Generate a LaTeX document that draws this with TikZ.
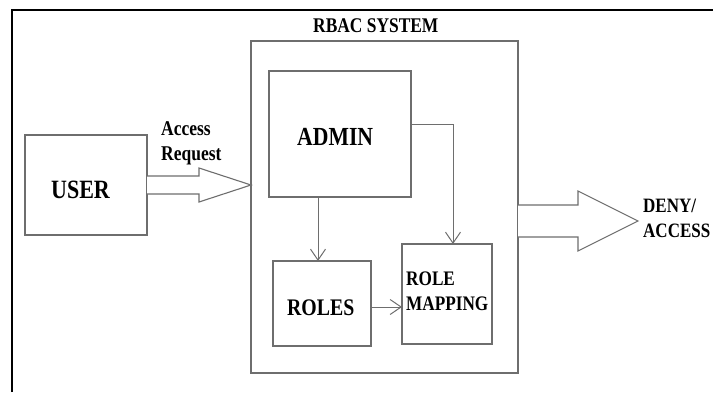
\documentclass[tikz,border=0pt]{standalone}
\usepackage{fontspec}
\setmainfont{Liberation Serif}
\usetikzlibrary{arrows.meta,calc}
\definecolor{boxgray}{HTML}{6E6E6E}
% bold serif text, slightly stretched vertically
\newcommand\tallt[1]{\scalebox{1}[1.2]{#1}}
\tikzset{
  frame/.style={draw=black, line width=1.8pt},
  box/.style={draw=boxgray, line width=1.1pt, fill=white, rectangle,
              inner sep=0pt, outer sep=0pt},
  lbl/.style={anchor=base west, inner sep=0pt, text=black},
  link/.style={draw=boxgray, line width=1pt,
               -{Straight Barb[length=11pt,width=15pt,line width=1pt]}},
  blk/.style={draw=boxgray, line width=1.1pt, fill=white, line join=miter},
}
\begin{document}
\begin{tikzpicture}[x=1pt,y=-1pt]
\useasboundingbox (0,0) rectangle (713,392);
\fill[white] (0,0) rectangle (713,392);

% page frame
\draw[frame] (12,392) -- (12,10) -- (713,10);

% boxes
\node[box, minimum width=267pt, minimum height=332pt] (rbac) at (384.5,207) {};
\node[box, minimum width=142pt, minimum height=126pt] (admin) at (340,134) {};
\node[box, minimum width=98pt, minimum height=85pt] (roles) at (322,303.5) {};
\node[box, minimum width=90pt, minimum height=100pt] (rolemap) at (447,294) {};
\node[box, minimum width=122pt, minimum height=100pt] (user) at (86,185) {};

% labels
\node[lbl, font=\bfseries\fontsize{17.4}{20}\selectfont] (rbaclbl) at (313,32) {\tallt{RBAC SYSTEM}};
\node[lbl, font=\bfseries\fontsize{21.7}{24}\selectfont] (adminlbl) at (297,145) {\tallt{ADMIN}};
\node[lbl, font=\bfseries\fontsize{19.8}{22}\selectfont] (roleslbl) at (287,315) {\tallt{ROLES}};
\node[lbl, font=\bfseries\fontsize{17.2}{20}\selectfont] (rolelbl) at (406,285) {\tallt{ROLE}};
\node[lbl, font=\bfseries\fontsize{17.2}{20}\selectfont] (mappinglbl) at (406,310) {\tallt{MAPPING}};
\node[lbl, font=\bfseries\fontsize{22}{24}\selectfont] (userlbl) at (51,198) {\tallt{USER}};
\node[lbl, font=\bfseries\fontsize{17.5}{20}\selectfont] (accesslbl) at (161,135) {\tallt{Access}};
\node[lbl, font=\bfseries\fontsize{17.5}{20}\selectfont] (requestlbl) at (161,160) {\tallt{Request}};
\node[lbl, font=\bfseries\fontsize{17}{20}\selectfont] (denylbl) at (643,212) {\tallt{DENY/}};
\node[lbl, font=\bfseries\fontsize{17}{20}\selectfont] (accessout) at (643,237) {\tallt{ACCESS}};

% block arrow: user request into the system
\draw[blk] (user.east |- 0,176) -- (199,176) -- (199,168)
  -- (rbac.west |- 0,185) -- (199,202) -- (199,194) -- (user.east |- 0,194);

% block arrow: decision out of the system
\coordinate (denytip) at (638,221);
\draw[blk] (rbac.east |- 0,205) -- (578,205) -- (578,191)
  -- (denytip) -- (578,251) -- (578,237) -- (rbac.east |- 0,237);

% internal links
\draw[link] (admin.south -| 318,0) -- (roles.north -| 318,0);
\draw[link] (admin.east |- 0,124) -| (rolemap.north -| 453,0);
\draw[link] (roles.east |- 0,307) -- (rolemap.west |- 0,307);
\end{tikzpicture}
\end{document}
